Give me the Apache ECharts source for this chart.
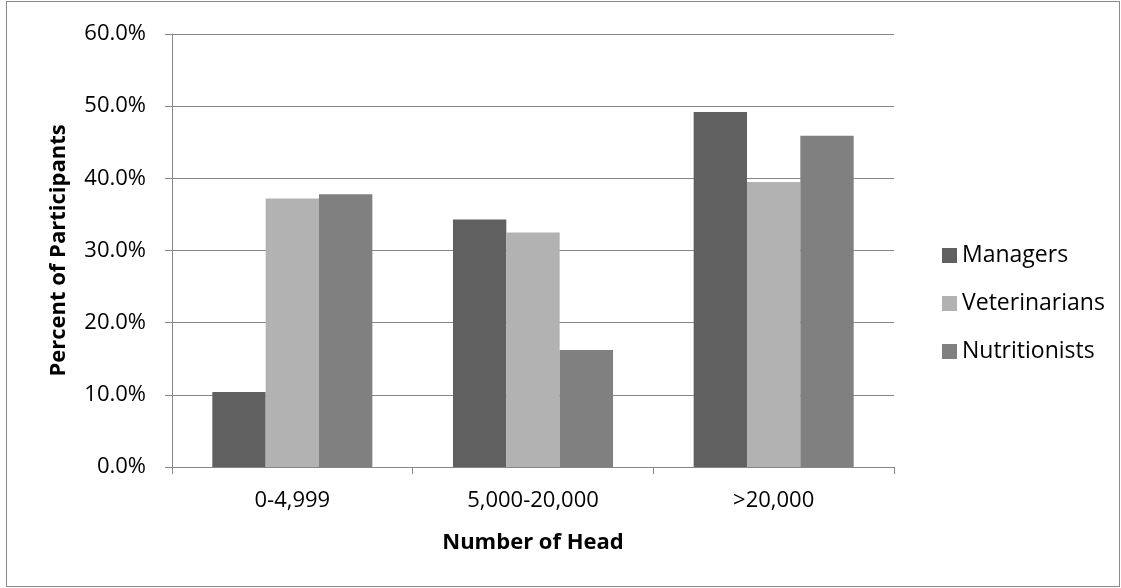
<!DOCTYPE html>
<html>
<head>
<meta charset="utf-8">
<script src="https://cdn.jsdelivr.net/npm/echarts@6/dist/echarts.min.js"></script>
<style>
html,body{margin:0;padding:0;background:#fff;}
#wrap{width:1121px;height:588px;position:relative;}
#c{position:absolute;left:0;top:0;width:1121px;height:588px;}
#frame{position:absolute;left:6px;top:1px;width:1114px;height:586px;box-sizing:border-box;border:1px solid #8a8a8a;pointer-events:none;}
</style>
</head>
<body>
<div id="wrap"><div id="c"></div><div id="frame"></div></div>
<script>
const categories = ['0-4,999', '5,000-20,000', '>20,000'];
const managers = [10.4, 34.3, 49.2];
const veterinarians = [37.2, 32.5, 39.5];
const nutritionists = [37.8, 16.2, 45.9];
const seriesNames = ['Managers', 'Veterinarians', 'Nutritionists'];
const colors = ['#606060', '#b2b2b2', '#808080'];

const font = '"Open Sans", Lato, sans-serif';
const chart = echarts.init(document.getElementById('c'));
chart.setOption({
  animation: false,
  textStyle: {fontFamily: font},
  grid: {left: 172, right: 227, top: 34, bottom: 121},
  legend: {
    orient: 'vertical',
    left: 937,
    top: 239,
    itemWidth: 15,
    itemHeight: 15,
    itemGap: 25,
    icon: 'rect',
    textStyle: {fontSize: 23, color: '#000', fontFamily: font, lineHeight: 23},
    data: seriesNames
  },
  xAxis: {
    type: 'category',
    data: categories,
    name: 'Number of Head',
    nameLocation: 'middle',
    nameGap: 65,
    nameTextStyle: {fontSize: 22, fontWeight: 'bold', color: '#000', fontFamily: font},
    axisLine: {lineStyle: {color: '#868686', width: 1}},
    axisTick: {show: true, length: 7, lineStyle: {color: '#868686'}},
    axisLabel: {fontSize: 22, color: '#000', margin: 23, fontFamily: font}
  },
  yAxis: {
    type: 'value',
    min: 0,
    max: 60,
    interval: 10,
    name: 'Percent of Participants',
    nameLocation: 'middle',
    nameGap: 102,
    nameTextStyle: {fontSize: 22, fontWeight: 'bold', color: '#000', fontFamily: font},
    axisLine: {show: true, lineStyle: {color: '#868686', width: 1}},
    axisTick: {show: true, length: 7, lineStyle: {color: '#868686'}},
    axisLabel: {fontSize: 22, color: '#000', margin: 26, fontFamily: font,
      formatter: v => v.toFixed(1) + '%'},
    splitLine: {lineStyle: {color: '#868686', width: 1}}
  },
  series: [
    {name: seriesNames[0], type: 'bar', data: managers, itemStyle: {color: colors[0]}, barGap: '0%', barCategoryGap: '33.5%'},
    {name: seriesNames[1], type: 'bar', data: veterinarians, itemStyle: {color: colors[1]}, barGap: '0%', barCategoryGap: '33.5%'},
    {name: seriesNames[2], type: 'bar', data: nutritionists, itemStyle: {color: colors[2]}, barGap: '0%', barCategoryGap: '33.5%'}
  ]
});
</script>
</body>
</html>
